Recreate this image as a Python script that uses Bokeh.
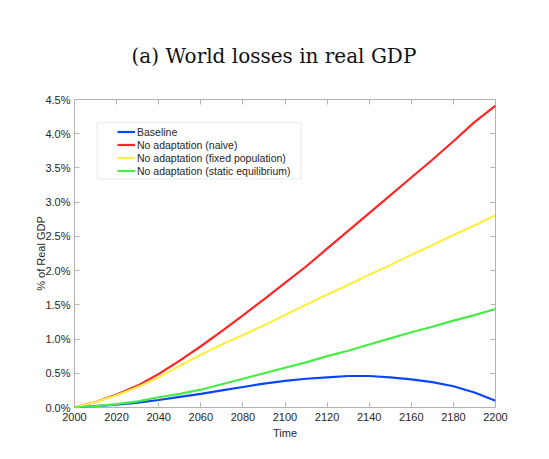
from bokeh.plotting import figure
from bokeh.models import (LinearAxis, FixedTicker, PrintfTickFormatter, Range1d,
                          Legend, LegendItem, BoxAnnotation, Title, CustomJSTickFormatter)
from bokeh.embed import file_html
from bokeh.resources import INLINE

years = [2000, 2010, 2020, 2030, 2040, 2050, 2060, 2070, 2080, 2090, 2100,
         2110, 2120, 2130, 2140, 2150, 2160, 2170, 2180, 2190, 2200]
baseline = [0.00, 0.02, 0.04, 0.07, 0.11, 0.155, 0.20, 0.25, 0.30, 0.35, 0.39,
            0.42, 0.44, 0.46, 0.46, 0.44, 0.41, 0.37, 0.31, 0.22, 0.10]
naive = [0.00, 0.08, 0.19, 0.32, 0.49, 0.685, 0.895, 1.115, 1.345, 1.58, 1.82,
         2.06, 2.32, 2.58, 2.84, 3.10, 3.36, 3.62, 3.89, 4.17, 4.41]
fixed_pop = [0.00, 0.08, 0.18, 0.30, 0.44, 0.61, 0.77, 0.92, 1.06, 1.20, 1.35,
             1.50, 1.65, 1.79, 1.94, 2.08, 2.23, 2.37, 2.52, 2.66, 2.81]
static_eq = [0.00, 0.02, 0.05, 0.09, 0.15, 0.20, 0.26, 0.34, 0.42, 0.50, 0.58,
             0.66, 0.75, 0.83, 0.92, 1.01, 1.10, 1.18, 1.27, 1.35, 1.44]

series_names = ["Baseline", "No adaptation (naive)", "No adaptation (fixed population)",
                "No adaptation (static equilibrium)"]
series_colors = ["#0a46ff", "#ff2626", "#ffee44", "#44ee44"]
x_ticks = [2000, 2020, 2040, 2060, 2080, 2100, 2120, 2140, 2160, 2180, 2200]
y_ticks = [0.0, 0.5, 1.0, 1.5, 2.0, 2.5, 3.0, 3.5, 4.0, 4.5]

GRAY = "#b3b3b3"
TXT = "#262626"
SANS = "Liberation Sans"

p = figure(width=533, height=443, output_backend="svg", toolbar_location=None,
           x_range=Range1d(2000, 2200), y_range=Range1d(0, 4.5),
           min_border_left=74, min_border_right=38, min_border_top=99, min_border_bottom=36,
           x_axis_label="Time", y_axis_label="% of Real GDP")
p.background_fill_color = "white"
p.border_fill_color = "white"
p.outline_line_color = GRAY
p.outline_line_width = 1
p.grid.visible = False

def style_axis(ax, show_labels):
    ax.axis_line_color = None
    ax.major_tick_line_color = GRAY
    ax.minor_tick_line_color = None
    ax.major_tick_in = 5
    ax.major_tick_out = 0
    ax.major_label_text_font = SANS
    ax.major_label_text_font_size = "11px"
    ax.major_label_text_color = TXT
    ax.major_label_standoff = 4
    ax.axis_label_text_font = SANS
    ax.axis_label_text_font_size = "11px"
    ax.axis_label_text_font_style = "normal"
    ax.axis_label_text_color = TXT
    ax.axis_label_standoff = 3
    if not show_labels:
        ax.formatter = CustomJSTickFormatter(code="return '';")
        ax.major_label_standoff = 0

p.xaxis.ticker = FixedTicker(ticks=x_ticks)
p.yaxis.ticker = FixedTicker(ticks=y_ticks)
p.yaxis.formatter = PrintfTickFormatter(format="%.1f%%")
style_axis(p.xaxis[0], True)
style_axis(p.yaxis[0], True)
p.xaxis.major_label_standoff = 5
p.yaxis.axis_label_standoff = -5

top_ax = LinearAxis(ticker=FixedTicker(ticks=x_ticks))
right_ax = LinearAxis(ticker=FixedTicker(ticks=y_ticks))
style_axis(top_ax, False)
style_axis(right_ax, False)
p.add_layout(top_ax, "above")
p.add_layout(right_ax, "right")

p.title = Title(text="(a) World losses in real GDP", text_font="DejaVu Serif",
                text_font_size="20px", text_font_style="normal", text_color="#111111",
                align="left", offset=57, standoff=64)

# legend frame
p.add_layout(BoxAnnotation(left=2010.8, right=2107.7, bottom=3.34, top=4.16,
                           fill_color="white", fill_alpha=1.0,
                           line_color=GRAY, line_width=1, level="overlay"))

renderers = []
for vals, c in zip([baseline, naive, fixed_pop, static_eq], series_colors):
    r = p.line(years, vals, line_color=c, line_width=2.2)
    renderers.append(r)

legend = Legend(items=[LegendItem(label=n, renderers=[r]) for n, r in zip(series_names, renderers)],
                location=(43, 230), padding=0, spacing=0, margin=0,
                glyph_width=18, glyph_height=13, label_height=13, label_standoff=2,
                label_text_font=SANS, label_text_font_size="10.5px", label_text_color=TXT,
                border_line_color=None, background_fill_alpha=0, level="overlay")
p.add_layout(legend, "center")

open("out.html", "w").write(file_html(p, INLINE))
